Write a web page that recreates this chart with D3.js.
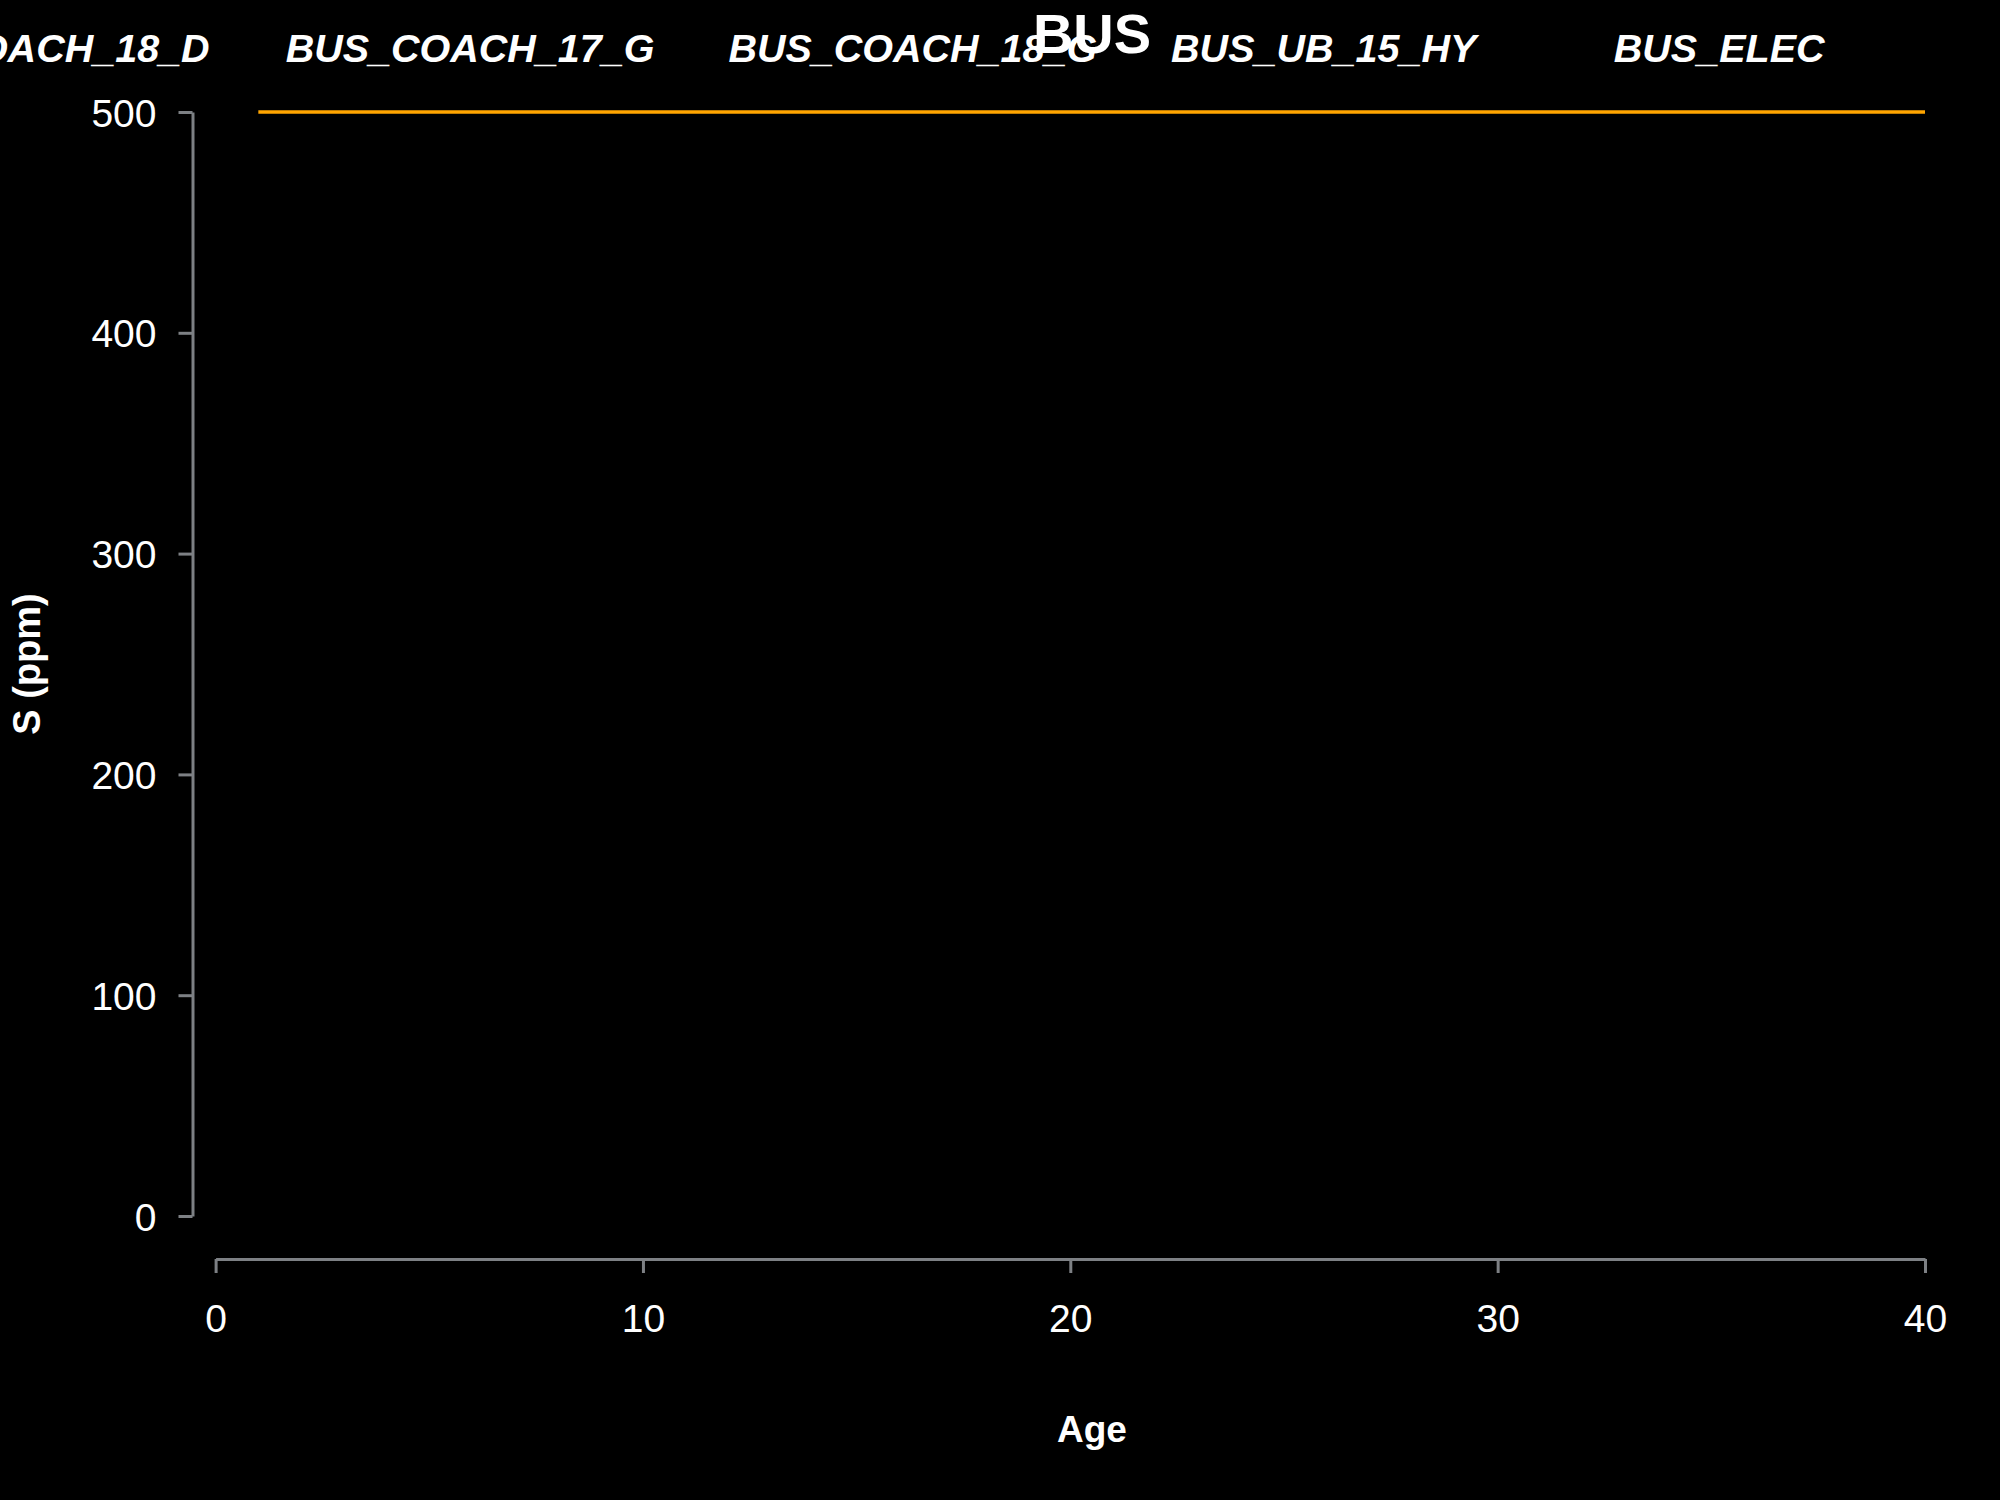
<!DOCTYPE html>
<html>
<head>
<meta charset="utf-8">
<script src="https://cdn.jsdelivr.net/npm/d3@7"></script>
<style>
  html, body { margin: 0; padding: 0; background: #000; }
  svg { display: block; }
  text { font-family: "Liberation Sans", Arial, Helvetica, sans-serif; fill: #fff; }
</style>
</head>
<body>
<svg id="chart" width="2000" height="1500"></svg>
<script>
// ---- data ----
const title = "BUS";
const legendLabels = ["BUS_COACH_18_D", "BUS_COACH_17_G", "BUS_COACH_18_G", "BUS_UB_15_HY", "BUS_ELEC"];
const ages = [1, 2, 3, 4, 5, 6, 7, 8, 9, 10, 11, 12, 13, 14, 15, 16, 17, 18, 19, 20,
              21, 22, 23, 24, 25, 26, 27, 28, 29, 30, 31, 32, 33, 34, 35, 36, 37, 38, 39, 40];
const sulfurPpm = [500, 500, 500, 500, 500, 500, 500, 500, 500, 500, 500, 500, 500, 500, 500, 500, 500, 500, 500, 500,
                   500, 500, 500, 500, 500, 500, 500, 500, 500, 500, 500, 500, 500, 500, 500, 500, 500, 500, 500, 500];
const xTicks = [0, 10, 20, 30, 40];
const yTicks = [0, 100, 200, 300, 400, 500];
const xLabel = "Age";
const yLabel = "S (ppm)";

// ---- layout ----
const svg = d3.select("#chart");
svg.append("rect").attr("width", 2000).attr("height", 1500).attr("fill", "#000");

const x = d3.scaleLinear().domain([0, 40]).range([215.6, 1925]);
const y = d3.scaleLinear().domain([0, 500]).range([1216, 112]);
const axisColor = "#7d8084";

// y axis
const gy = svg.append("g").attr("transform", "translate(192.5,0)")
  .call(d3.axisLeft(y).tickValues(yTicks).tickSize(14).tickSizeOuter(0).tickPadding(22));
gy.selectAll("path, line").attr("stroke", axisColor).attr("stroke-width", 3);
gy.selectAll("text").attr("font-size", 39).attr("fill", "#fff")
  .attr("font-family", "'Liberation Sans', Arial, sans-serif").attr("dy", "0.36em");

// x axis
const gx = svg.append("g").attr("transform", "translate(0,1259)")
  .call(d3.axisBottom(x).tickValues(xTicks).tickSize(14).tickSizeOuter(0).tickPadding(31));
gx.selectAll("path, line").attr("stroke", axisColor).attr("stroke-width", 3);
gx.selectAll("text").attr("font-size", 39).attr("fill", "#fff")
  .attr("font-family", "'Liberation Sans', Arial, sans-serif").attr("dy", "0.72em");

// line
const pts = ages.map((a, i) => [a, sulfurPpm[i]]);
svg.append("path")
  .datum(pts)
  .attr("fill", "none")
  .attr("stroke", "#FFA500")
  .attr("stroke-width", 3.5)
  .attr("d", d3.line().x(d => x(d[0])).y(d => y(d[1])));

// legend labels across the top
const legendStep = 442.7;
svg.append("g").selectAll("text")
  .data(legendLabels)
  .join("text")
  .attr("x", (d, i) => -157 + i * legendStep)
  .attr("y", 62)
  .attr("font-size", 39.5)
  .attr("font-weight", "bold")
  .attr("font-style", "italic")
  .text(d => d);

// title
svg.append("text")
  .attr("x", 1092).attr("y", 53)
  .attr("text-anchor", "middle")
  .attr("font-size", 56).attr("font-weight", "bold")
  .text(title);

// axis titles
svg.append("text")
  .attr("x", 1092).attr("y", 1442)
  .attr("text-anchor", "middle")
  .attr("font-size", 37).attr("font-weight", "bold")
  .text(xLabel);

svg.append("text")
  .attr("transform", "translate(40,664) rotate(-90)")
  .attr("text-anchor", "middle")
  .attr("font-size", 38).attr("font-weight", "bold")
  .text(yLabel);
</script>
</body>
</html>
